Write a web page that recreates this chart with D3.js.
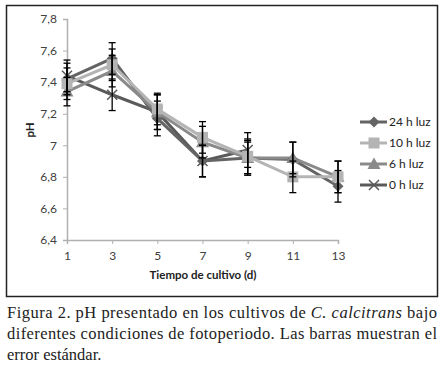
<!DOCTYPE html>
<html>
<head>
<meta charset="utf-8">
<script src="https://cdn.jsdelivr.net/npm/d3@7"></script>
<style>
  body { margin: 0; background: #fff; }
  svg { display: block; }
  .tick text { font-family: Lato, "Open Sans", sans-serif; font-size: 12px; fill: #404040; }
</style>
</head>
<body>
<svg id="svg" width="447" height="385"></svg>
<script>
// days on the x axis
const days = [1, 3, 5, 7, 9, 11, 13];
const yTicks = [6.4, 6.6, 6.8, 7.0, 7.2, 7.4, 7.6, 7.8];

// pH per series
const ph24 = [7.42, 7.55, 7.17, 6.90, 6.92, 6.91, 6.74];
const ph10 = [7.39, 7.51, 7.23, 7.05, 6.93, 6.80, 6.80];
const ph6  = [7.34, 7.47, 7.21, 7.02, 6.92, 6.92, 6.80];
const ph0  = [7.44, 7.32, 7.21, 6.90, 6.97];

// standard error
const err24 = [0.10, 0.10, 0.11, 0.10, 0.10, 0.11, 0.10];
const err10 = [0.10, 0.10, 0.10, 0.10, 0.11, 0.10, 0.10];
const err6  = [0.09, 0.10, 0.11, 0.10, 0.11, 0.10, 0.10];
const err0  = [0.10, 0.10, 0.11, 0.10, 0.11];

const labels = ["24 h luz", "10 h luz", "6 h luz", "0 h luz"];

let series = [
    {name: labels[0], values: ph24, err: err24, color: "#646464", shape: "diamond"},
    {name: labels[1], values: ph10, err: err10, color: "#b4b4b4", shape: "square"},
    {name: labels[2], values: ph6,  err: err6,  color: "#8a8a8a", shape: "triangle"},
    {name: labels[3], values: ph0,  err: err0,  color: "#5a5a5a", shape: "x"}
];

let svg = d3.select("#svg");

// outer frame
svg.append("rect")
    .attr("x", 6.5).attr("y", 5.5)
    .attr("width", 431).attr("height", 291)
    .attr("fill", "none").attr("stroke", "#222").attr("stroke-width", 1.5);

let x = d3.scaleLinear().domain([1, 13]).range([67, 338]);
let y = d3.scaleLinear().domain([6.4, 7.8]).range([240, 19]);

let yAxis = svg.append("g")
    .attr("transform", "translate(67,0)")
    .call(d3.axisLeft(y).tickValues(yTicks).tickSize(4).tickPadding(6)
        .tickFormat(d => d === 7 ? "7" : d3.format(".1f")(d).replace(".", ",")));
let xAxis = svg.append("g")
    .attr("transform", "translate(0,240)")
    .call(d3.axisBottom(x).tickValues(days).tickSize(4).tickPadding(7));
[yAxis, xAxis].forEach(a => {
    a.select(".domain").attr("stroke", "#b0b0b0").attr("stroke-width", 1.5);
    a.selectAll(".tick line").attr("stroke", "#b0b0b0");
});

svg.append("text")
    .attr("x", 203).attr("y", 279)
    .attr("text-anchor", "middle")
    .attr("font-family", "Lato, 'Open Sans', sans-serif")
    .attr("font-weight", "bold").attr("font-size", 11.5).attr("fill", "#222")
    .text("Tiempo de cultivo (d)");
svg.append("text")
    .attr("transform", "translate(34,130) rotate(-90)")
    .attr("text-anchor", "middle")
    .attr("font-family", "Lato, 'Open Sans', sans-serif")
    .attr("font-weight", "bold").attr("font-size", 11.5).attr("fill", "#222")
    .text("pH");

let line = d3.line().x((d, i) => x(days[i])).y(d => y(d));

function marker(g, shape, color) {
    if (shape === "diamond") {
        g.append("path").attr("d", "M0,-5.5L5.5,0L0,5.5L-5.5,0Z").attr("fill", color);
    } else if (shape === "square") {
        g.append("rect").attr("x", -5.5).attr("y", -5.5).attr("width", 11).attr("height", 11).attr("fill", color);
    } else if (shape === "triangle") {
        g.append("path").attr("d", "M0,-6.5L6.5,5L-6.5,5Z").attr("fill", color);
    } else {
        g.append("path").attr("d", "M-5,-5L5,5M-5,5L5,-5")
            .attr("stroke", color).attr("stroke-width", 1.5).attr("fill", "none");
    }
}

// draw order: bottom first
let drawOrder = [series[3], series[0], series[2], series[1]];

// lines
drawOrder.forEach(s => {
    svg.append("path")
        .datum(s.values)
        .attr("d", line)
        .attr("fill", "none")
        .attr("stroke", s.color)
        .attr("stroke-width", 3);
});

// markers
drawOrder.forEach(s => {
    s.values.forEach((v, i) => {
        let g = svg.append("g").attr("transform", "translate(" + x(days[i]) + "," + y(v) + ")");
        marker(g, s.shape, s.color);
    });
});

// error bars
series.forEach(s => {
    s.values.forEach((v, i) => {
        let cx = x(days[i]);
        let g = svg.append("g").attr("stroke", "#000").attr("stroke-width", 1.3);
        g.append("line").attr("x1", cx).attr("x2", cx).attr("y1", y(v - s.err[i])).attr("y2", y(v + s.err[i]));
        [v - s.err[i], v + s.err[i]].forEach(e => {
            g.append("line").attr("x1", cx - 3.5).attr("x2", cx + 3.5).attr("y1", y(e)).attr("y2", y(e));
        });
    });
});

// legend
let legend = svg.append("g").attr("transform", "translate(360,122)");
series.forEach((s, i) => {
    let g = legend.append("g").attr("transform", "translate(0," + (i * 21) + ")");
    g.append("line").attr("x1", 0).attr("x2", 27).attr("stroke", s.color).attr("stroke-width", 3);
    marker(g.append("g").attr("transform", "translate(14,0)"), s.shape, s.color);
    g.append("text").attr("x", 29).attr("y", 4)
        .attr("font-family", "Lato, 'Open Sans', sans-serif")
        .attr("font-size", 12).attr("fill", "#222")
        .text(s.name);
});

// caption
let cap = svg.append("g")
    .attr("font-family", "'Liberation Serif', 'DejaVu Serif', serif")
    .attr("font-size", 16.5).attr("fill", "#222");
let t1 = cap.append("text").attr("x", 7).attr("y", 318)
    .attr("textLength", 430).attr("lengthAdjust", "spacing");
t1.append("tspan").text("Figura 2. pH presentado en los cultivos de ");
t1.append("tspan").attr("font-style", "italic").text("C. calcitrans");
t1.append("tspan").text(" bajo");
cap.append("text").attr("x", 7).attr("y", 339)
    .attr("textLength", 430).attr("lengthAdjust", "spacing")
    .text("diferentes condiciones de fotoperiodo. Las barras muestran el");
cap.append("text").attr("x", 7).attr("y", 360).text("error estándar.");
</script>
</body>
</html>
